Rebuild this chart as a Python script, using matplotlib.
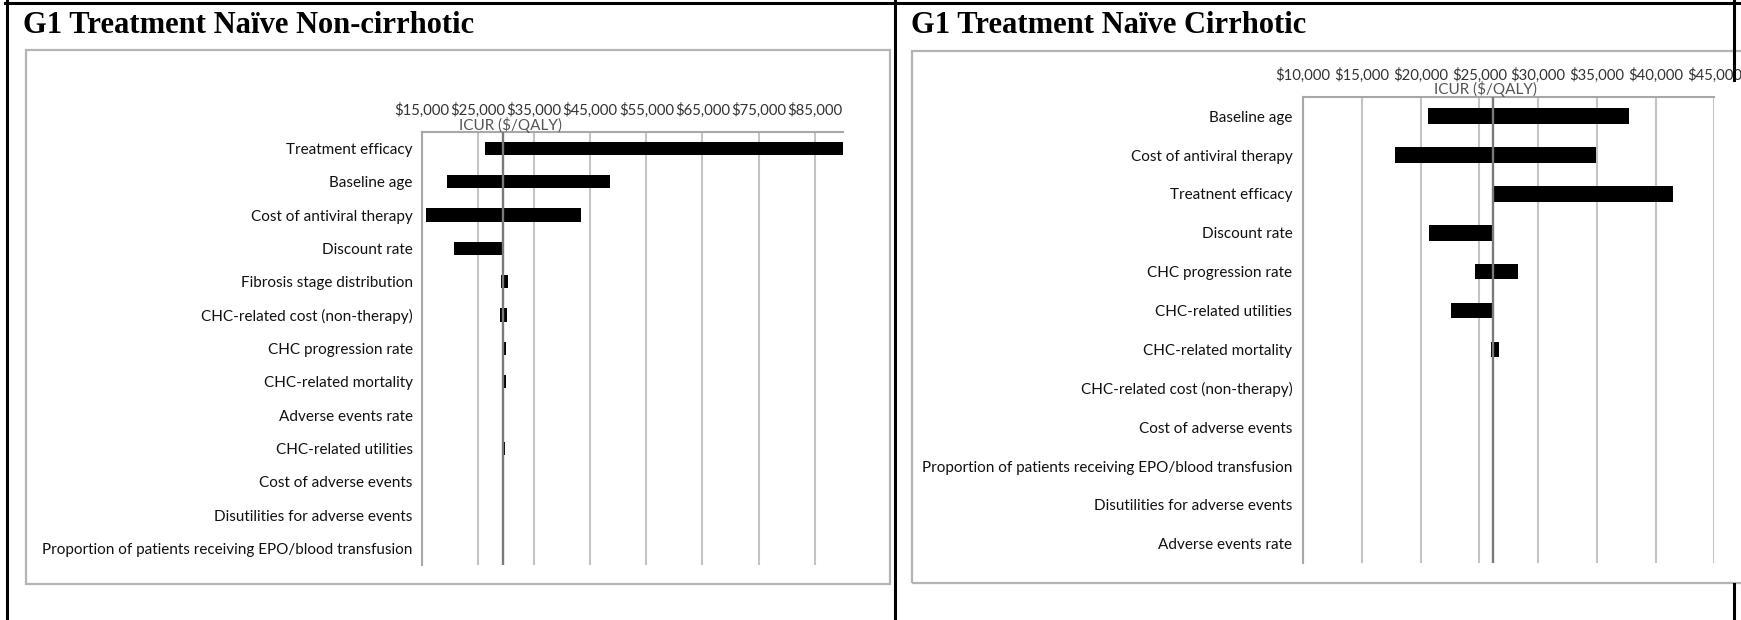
import matplotlib.pyplot as plt
from matplotlib.patches import Rectangle
from matplotlib.lines import Line2D

W, H = 1741, 620

# G1 treatment naive, non-cirrhotic (ICUR, $/QALY)
nc_params = ["Treatment efficacy", "Baseline age", "Cost of antiviral therapy",
             "Discount rate", "Fibrosis stage distribution",
             "CHC-related cost (non-therapy)", "CHC progression rate",
             "CHC-related mortality", "Adverse events rate", "CHC-related utilities",
             "Cost of adverse events", "Disutilities for adverse events",
             "Proportion of patients receiving EPO/blood transfusion"]
nc_low = [26300, 19500, 15700, 20800, 29100, 28900, 29400, 29400, 29400, 29400,
          29400, 29400, 29400]
nc_high = [90000, 48600, 43300, 29400, 30300, 30200, 30000, 30000, 29750, 29800,
           29400, 29400, 29400]
nc_base = 29400
nc_ticks = [15000, 25000, 35000, 45000, 55000, 65000, 75000, 85000]

# G1 treatment naive, cirrhotic
c_params = ["Baseline age", "Cost of antiviral therapy", "Treatnent efficacy",
            "Discount rate", "CHC progression rate", "CHC-related utilities",
            "CHC-related mortality", "CHC-related cost (non-therapy)",
            "Cost of adverse events",
            "Proportion of patients receiving EPO/blood transfusion",
            "Disutilities for adverse events", "Adverse events rate"]
c_low = [20600, 17800, 26200, 20700, 24600, 22600, 26000, 26200, 26200, 26200,
         26200, 26200]
c_high = [37700, 34900, 41500, 26200, 28300, 26200, 26700, 26200, 26200, 26200,
          26200, 26200]
c_base = 26200
c_ticks = [10000, 15000, 20000, 25000, 30000, 35000, 40000, 45000]


def fx(x):
    return x / W


def fy(y):
    return 1 - y / H


def axes_at(fig, x0, x1, ytop, ybot):
    return fig.add_axes([fx(x0), fy(ybot), fx(x1) - fx(x0), fy(ytop) - fy(ybot)])


def tornado(ax, params, low, high, base, ticks, xmax, lab_pad):
    n = len(params)
    rows = list(range(n))
    # bar in two pieces, split at the base case
    left = [min(lo, base) for lo in low]
    right = [max(hi, base) for hi in high]
    ax.barh(rows, [base - l for l in left], left=left, height=0.4, color="black", zorder=2)
    ax.barh(rows, [r - base for r in right], left=base, height=0.4, color="black", zorder=2)
    ax.axvline(base, color="#7a7a7a", lw=1.7, zorder=3)

    ax.set_xlim(ticks[0], xmax)
    ax.set_ylim(n - 0.5, -0.5)
    ax.set_xticks(ticks)
    ax.set_xticklabels([f"${t:,}" for t in ticks])
    ax.xaxis.tick_top()
    ax.set_yticks(rows)
    ax.set_yticklabels(params)
    ax.tick_params(axis="x", length=0, pad=10, labelsize=10.7, labelcolor="#333333")
    ax.tick_params(axis="y", length=0, pad=lab_pad, labelsize=11, labelcolor="#111111")
    ax.grid(axis="x", color="#c4c4c4", lw=1.5, zorder=0)
    ax.set_axisbelow(True)
    for s in ["right", "bottom"]:
        ax.spines[s].set_visible(False)
    for s in ["top", "left"]:
        ax.spines[s].set_color("#a8a8a8")
        ax.spines[s].set_linewidth(1.5)


plt.rcParams["font.family"] = ["Lato", "DejaVu Sans"]

fig = plt.figure(figsize=(W / 100, H / 100), dpi=100)

# table borders
for (xa, ya, xb, yb) in [(5, 3, W, 3), (7, 0, 7, H), (895, 0, 895, H),
                         (1734, 0, 1734, 80), (1734, 584, 1734, H)]:
    fig.add_artist(Line2D([fx(xa), fx(xb)], [fy(ya), fy(yb)], color="black", lw=2.2))

# chart frames
fig.add_artist(Rectangle((fx(25.5), fy(584)), fx(890) - fx(25.5), fy(50) - fy(584),
                         fill=False, edgecolor="#b4b4b4", lw=1.6))
fig.add_artist(Rectangle((fx(911.7), fy(583)), fx(1760) - fx(911.7), fy(50.7) - fy(583),
                         fill=False, edgecolor="#b4b4b4", lw=1.6))

title_kw = dict(family="Liberation Serif", fontweight="bold", fontsize=22,
                va="baseline", color="black")
fig.text(fx(22.7), fy(33), "G1 Treatment Naïve Non-cirrhotic", **title_kw)
fig.text(fx(910.7), fy(33), "G1 Treatment Naïve Cirrhotic", **title_kw)

ax1 = axes_at(fig, 421.7, 842.7, 131.7, 565)
tornado(ax1, nc_params, nc_low, nc_high, nc_base, nc_ticks, 90000, 6.5)

ax2 = axes_at(fig, 1303, 1714.3, 96.7, 563.3)
tornado(ax2, c_params, c_low, c_high, c_base, c_ticks, 45000, 7.7)

icur_kw = dict(ha="center", va="center", fontsize=11, color="#555555")
fig.text(fx(511), fy(125), "ICUR ($/QALY)", **icur_kw)
fig.text(fx(1486), fy(89), "ICUR ($/QALY)", **icur_kw)

fig.savefig("out.png", dpi=100)
